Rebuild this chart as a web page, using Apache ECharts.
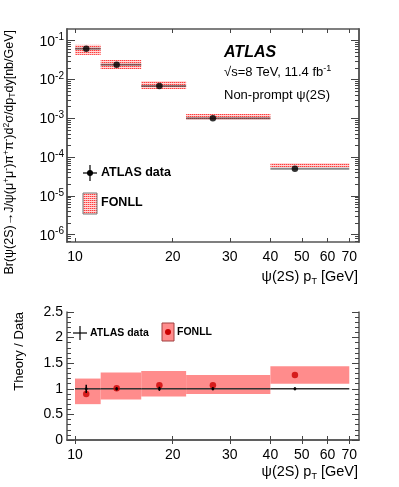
<!DOCTYPE html>
<html><head><meta charset="utf-8">
<script src="https://cdn.jsdelivr.net/npm/echarts@6/dist/echarts.min.js"></script>
<style>html,body{margin:0;padding:0;background:#fff}#c{width:399px;height:487px}</style>
</head><body><div id="c"></div>
<script>
// ---- data ----
const ptLo = [10, 12, 16, 22, 40];
const ptHi = [12, 16, 22, 40, 70];
const ptMean = [10.83, 13.44, 18.2, 26.6, 47.6];
const xsecData = [0.062, 0.0240, 0.00679, 0.00100, 5.0e-5];
const fonllLo = [0.043, 0.0187, 0.00569, 0.00090, 5.45e-5];
const fonllHi = [0.078, 0.0318, 0.00914, 0.00129, 7.1e-5];
const ratioFonll = [0.90, 1.01, 1.07, 1.07, 1.27];
const ratioLo = [0.70, 0.79, 0.85, 0.90, 1.10];
const ratioHi = [1.20, 1.32, 1.35, 1.27, 1.44];
const dataRatio = [1, 1, 1, 1, 1];
const dataRatioErr = [0.08, 0.03, 0.04, 0.03, 0.03];
const xTicks = [10, 20, 30, 40, 50, 60, 70];
const yTopTicks = [1e-6, 1e-5, 1e-4, 1e-3, 1e-2, 1e-1];
const yBotTicks = [0, 0.5, 1, 1.5, 2, 2.5];

const yTopMinor = [];
for (let e = -7; e <= -1; e++) for (let m = 2; m <= 9; m++) {
  const v = m * Math.pow(10, e);
  if (v > 6.5e-7 && v < 0.2) yTopMinor.push(v);
}

const FF = '"Liberation Sans", Arial, sans-serif';
const frame = {color: '#555', width: 1.5};
const tickCol = '#444';

function hatch() {
  const c = document.createElement('canvas'); c.width = 2; c.height = 2;
  const g = c.getContext('2d');
  g.fillStyle = '#ffdada'; g.fillRect(0, 0, 2, 2);
  g.fillStyle = '#ff3c3c'; g.fillRect(0, 0, 1, 1);
  g.fillStyle = '#ff9a9a'; g.fillRect(1, 0, 1, 1);
  return c;
}
const hatchPat = {image: hatch(), repeat: 'repeat'};

const chart = echarts.init(document.getElementById('c'), null, {renderer: 'canvas'});

const xBase = {type: 'log', logBase: 10, min: 9.45, max: 75, splitLine: {show: false},
  axisLine: {show: true, lineStyle: frame}};
function xAx(grid, pos, labels) {
  return Object.assign({}, xBase, {gridIndex: grid, position: pos,
    axisTick: {show: true, inside: true, length: 4, customValues: xTicks, lineStyle: {color: tickCol}},
    axisLabel: labels ? {show: true, customValues: xTicks, fontSize: 14, margin: 8, color: '#000', fontFamily: FF} : {show: false}
  });
}
const yTopBase = {type: 'log', logBase: 10, min: 6.5e-7, max: 0.2, gridIndex: 0, splitLine: {show: false}};
function yTop(pos, major, labels) {
  return Object.assign({}, yTopBase, {position: pos,
    axisLine: {show: true, lineStyle: frame},
    axisTick: {show: true, inside: true, length: major ? 8 : 4, customValues: major ? yTopTicks : yTopMinor, lineStyle: {color: tickCol, width: 1}},
    axisLabel: labels ? {show: true, customValues: yTopTicks, margin: 3, color: '#000', fontFamily: FF,
      formatter: v => '{b|10}{s|' + Math.round(Math.log10(v)) + '}',
      rich: {b: {fontSize: 14, lineHeight: 16, fontFamily: FF, color: '#000', verticalAlign: 'bottom'},
             s: {fontSize: 10, lineHeight: 10, fontFamily: FF, color: '#000', verticalAlign: 'top'}}} : {show: false}
  });
}
function yBot(pos, labels) {
  return {type: 'value', gridIndex: 1, min: 0, max: 2.5, interval: 0.5, position: pos, splitLine: {show: false},
    axisLine: {show: true, lineStyle: frame},
    axisTick: {show: true, inside: true, length: 7, lineStyle: {color: tickCol}},
    minorTick: {show: true, splitNumber: 5, length: 4, lineStyle: {color: tickCol}},
    axisLabel: labels ? {show: true, customValues: yBotTicks, fontSize: 14, margin: 4, color: '#000', fontFamily: FF} : {show: false}
  };
}

function bandSeries(xi, yi, lo, hi, fill, z) {
  return {type: 'custom', xAxisIndex: xi, yAxisIndex: yi, z: z,
    encode: {x: [0, 1], y: [2, 3]},
    data: ptLo.map((x, i) => [x, ptHi[i], lo[i], hi[i]]),
    renderItem: (p, api) => {
      const a = api.coord([api.value(0), api.value(3)]);
      const b = api.coord([api.value(1), api.value(2)]);
      return {type: 'rect', shape: {x: a[0], y: a[1], width: b[0] - a[0], height: b[1] - a[1]}, style: {fill: fill}};
    }};
}
function hbarSeries(xi, yi, vals, color, w, z) {
  return {type: 'custom', xAxisIndex: xi, yAxisIndex: yi, z: z,
    encode: {x: [0, 1], y: 2},
    data: ptLo.map((x, i) => [x, ptHi[i], vals[i]]),
    renderItem: (p, api) => {
      const a = api.coord([api.value(0), api.value(2)]);
      const b = api.coord([api.value(1), api.value(2)]);
      return {type: 'line', shape: {x1: a[0], y1: a[1], x2: b[0], y2: b[1]}, style: {stroke: color, lineWidth: w}};
    }};
}
function verrSeries(xi, yi, vals, errs, z) {
  return {type: 'custom', xAxisIndex: xi, yAxisIndex: yi, z: z,
    encode: {x: 0, y: [1, 2]},
    data: ptMean.map((x, i) => [x, vals[i] - errs[i], vals[i] + errs[i]]),
    renderItem: (p, api) => {
      const a = api.coord([api.value(0), api.value(1)]);
      const b = api.coord([api.value(0), api.value(2)]);
      return {type: 'line', shape: {x1: a[0], y1: a[1], x2: b[0], y2: b[1]}, style: {stroke: '#000', lineWidth: 1.5}};
    }};
}

const sup = {fontSize: 8.5, lineHeight: 8, verticalAlign: 'top', fontFamily: FF, fill: '#000'};
const sub = {fontSize: 8.5, lineHeight: 8, verticalAlign: 'bottom', fontFamily: FF, fill: '#000'};

const option = {
  animation: false,
  grid: [
    {left: 67, top: 29, width: 292, height: 213, show: false},
    {left: 67, top: 312, width: 292, height: 128, show: false}
  ],
  xAxis: [xAx(0, 'bottom', true), xAx(0, 'top', false), xAx(1, 'bottom', true), xAx(1, 'top', false)],
  yAxis: [yTop('left', true, true), yTop('left', false, false), yTop('right', true, false), yTop('right', false, false),
          yBot('left', true), yBot('right', false)],
  series: [
    bandSeries(0, 0, fonllLo, fonllHi, hatchPat, 2),
    hbarSeries(0, 0, xsecData, 'rgba(60,60,60,0.6)', 2, 3),
    {type: 'scatter', xAxisIndex: 0, yAxisIndex: 0, z: 4, symbol: 'circle', symbolSize: 6.5,
      itemStyle: {color: '#000'}, data: ptMean.map((x, i) => [x, xsecData[i]])},
    bandSeries(2, 4, ratioLo, ratioHi, '#ff8c8c', 2),
    hbarSeries(2, 4, dataRatio, '#333', 1.5, 3),
    {type: 'scatter', xAxisIndex: 2, yAxisIndex: 4, z: 4, symbol: 'circle', symbolSize: 6.5,
      itemStyle: {color: '#cc0000'}, data: ptMean.map((x, i) => [x, ratioFonll[i]])},
    verrSeries(2, 4, dataRatio, dataRatioErr, 5),
    {type: 'scatter', xAxisIndex: 2, yAxisIndex: 4, z: 6, symbol: 'circle', symbolSize: 3,
      itemStyle: {color: '#000'}, data: ptMean.map((x, i) => [x, dataRatio[i]])}
  ],
  graphic: [
    {type: 'text', x: 224, y: 53, style: {text: 'ATLAS', font: 'italic bold 16px ' + FF, fill: '#000', verticalAlign: 'middle'}},
    {type: 'text', x: 224, y: 72, style: {text: '√s=8 TeV, 11.4 fb{s|-1}', font: '13px ' + FF, fill: '#000', verticalAlign: 'middle', lineHeight: 15,
      rich: {s: {fontSize: 9, lineHeight: 9, verticalAlign: 'top', fontFamily: FF, fill: '#000'}}}},
    {type: 'text', x: 224, y: 95, style: {text: 'Non-prompt ψ(2S)', font: '13px ' + FF, fill: '#000', verticalAlign: 'middle'}},
    {type: 'line', shape: {x1: 83, y1: 173, x2: 97, y2: 173}, style: {stroke: '#000', lineWidth: 1.2}},
    {type: 'line', shape: {x1: 90, y1: 165, x2: 90, y2: 181}, style: {stroke: '#000', lineWidth: 1.2}},
    {type: 'circle', shape: {cx: 90, cy: 173, r: 3}, style: {fill: '#000'}},
    {type: 'text', x: 101, y: 173, style: {text: 'ATLAS data', font: 'bold 12.5px ' + FF, fill: '#000', verticalAlign: 'middle'}},
    {type: 'rect', shape: {x: 83, y: 193, width: 14, height: 21}, style: {fill: hatchPat, stroke: '#777', lineWidth: 1}},
    {type: 'text', x: 101, y: 203, style: {text: 'FONLL', font: 'bold 12.5px ' + FF, fill: '#000', verticalAlign: 'middle'}},
    {type: 'line', shape: {x1: 73, y1: 333, x2: 87, y2: 333}, style: {stroke: '#000', lineWidth: 1.2}},
    {type: 'line', shape: {x1: 80, y1: 326, x2: 80, y2: 340}, style: {stroke: '#000', lineWidth: 1.2}},
    {type: 'text', x: 90, y: 333, style: {text: 'ATLAS data', font: 'bold 10.5px ' + FF, fill: '#000', verticalAlign: 'middle'}},
    {type: 'rect', shape: {x: 162, y: 323, width: 12, height: 18}, style: {fill: '#ff8c8c', stroke: '#a04040', lineWidth: 1}},
    {type: 'circle', shape: {cx: 168, cy: 332, r: 3}, style: {fill: '#cc0000'}},
    {type: 'text', x: 177, y: 332, style: {text: 'FONLL', font: 'bold 10.5px ' + FF, fill: '#000', verticalAlign: 'middle'}},
    {type: 'text', x: 358, y: 277, style: {text: 'ψ(2S) p{t|T} [GeV]', font: '14.5px ' + FF, fill: '#000', align: 'right', verticalAlign: 'middle', lineHeight: 18,
      rich: {t: {fontSize: 9, lineHeight: 9, verticalAlign: 'bottom', fontFamily: FF, fill: '#000'}}}},
    {type: 'text', x: 358, y: 472, style: {text: 'ψ(2S) p{t|T} [GeV]', font: '14.5px ' + FF, fill: '#000', align: 'right', verticalAlign: 'middle', lineHeight: 18,
      rich: {t: {fontSize: 9, lineHeight: 9, verticalAlign: 'bottom', fontFamily: FF, fill: '#000'}}}},
    {type: 'text', x: 10, y: 30, rotation: Math.PI / 2, style: {
      text: 'Br(ψ(2S)→J/ψ(μ{sp|+}μ{sp|-})π{sp|+}π{sp|-})d{sp|2}σ/dp{sb|T}dy[nb/GeV]',
      font: '12.5px ' + FF, fill: '#000', align: 'right', verticalAlign: 'middle', lineHeight: 15,
      rich: {sp: sup, sb: sub}}},
    {type: 'text', x: 19, y: 312, rotation: Math.PI / 2, style: {text: 'Theory / Data', font: '13px ' + FF, fill: '#000', align: 'right', verticalAlign: 'middle'}}
  ]
};
chart.setOption(option);
</script></body></html>
